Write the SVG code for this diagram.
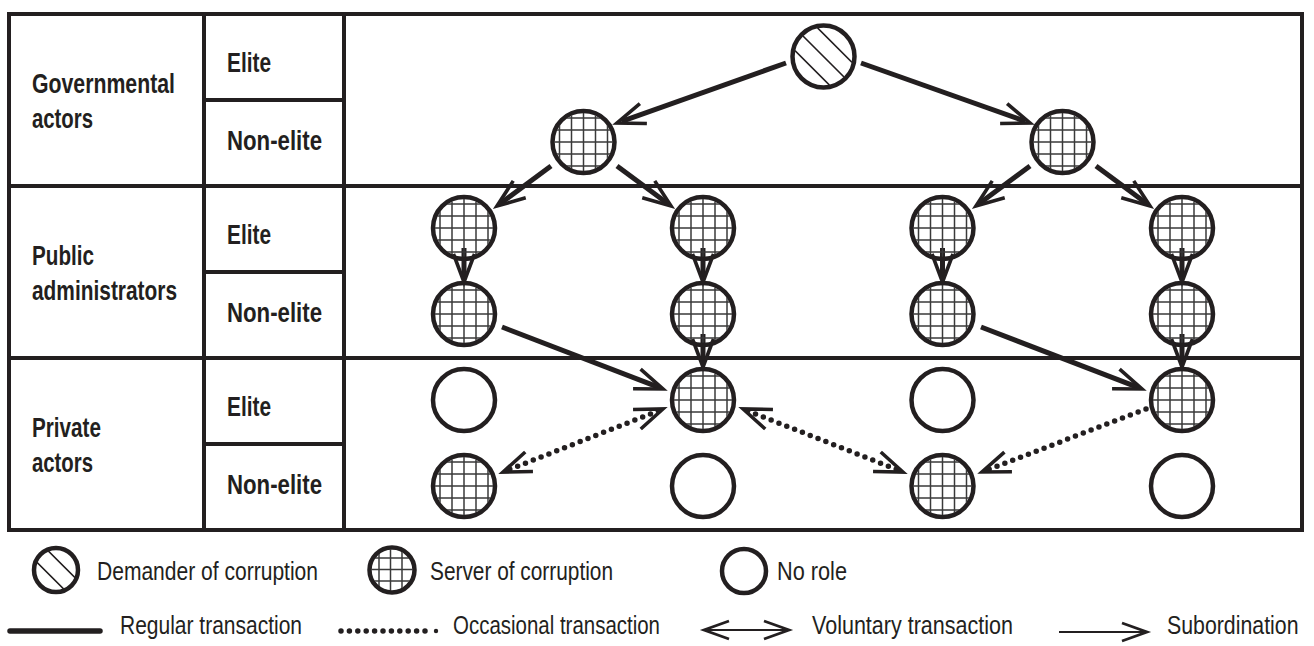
<svg xmlns="http://www.w3.org/2000/svg" xmlns:xlink="http://www.w3.org/1999/xlink" width="1314" height="646" viewBox="0 0 1314 646">
<style>
.tb{stroke:#231f20;stroke-width:4;fill:none}
.lbl{font-family:"Liberation Sans",Arial,sans-serif;font-weight:bold;font-size:27.5px;fill:#231f20}
.leg{font-family:"Liberation Sans",Arial,sans-serif;font-size:26px;fill:#231f20}
.ring{fill:none;stroke:#231f20;stroke-width:4.5}
.grid{stroke:#3a3a3a;stroke-width:1.5;fill:none}
.hatch{stroke:#231f20;stroke-width:1.6;fill:none}
.reg{stroke:#231f20;stroke-width:5;fill:none;marker-end:url(#ah)}
.dot{stroke:#231f20;stroke-width:5.5;stroke-dasharray:0 8.4;stroke-linecap:round;fill:none}
.thin{stroke:#231f20;stroke-width:1.8;fill:none}
</style>
<defs>
<marker id="ah" viewBox="-30 -15 40 30" refX="0" refY="0" markerWidth="40" markerHeight="30" orient="auto-start-reverse" markerUnits="userSpaceOnUse" overflow="visible">
<path d="M-23,-10.5 L5,0 L-23,10.5" fill="none" stroke="#231f20" stroke-width="3.6" stroke-dasharray="none"/>
</marker>
<marker id="lh" viewBox="-30 -15 40 30" refX="0" refY="0" markerWidth="40" markerHeight="30" orient="auto-start-reverse" markerUnits="userSpaceOnUse" overflow="visible">
<path d="M-25,-9 L0,0 L-25,9" fill="none" stroke="#231f20" stroke-width="2.8"/>
</marker>
<clipPath id="cc"><circle r="29"/></clipPath>
<clipPath id="cl"><circle r="20.5"/></clipPath>
<g id="srv"><g clip-path="url(#cc)"><path class="grid" d="M-24,-32V32M-12,-32V32M0,-32V32M12,-32V32M24,-32V32M-32,-24H32M-32,-12H32M-32,0H32M-32,12H32M-32,24H32"/></g><circle r="31" class="ring"/></g>
<g id="emp"><circle r="31" class="ring" fill="#fff"/></g>
<g id="dem"><g clip-path="url(#cc)"><path transform="rotate(45)" class="hatch" d="M-40,-16H40M-40,0H40M-40,16H40"/></g><circle r="31" class="ring"/></g>
</defs>
<rect width="1314" height="646" fill="#fff"/>

<g id="table">
<rect x="9" y="14" width="1293" height="516" class="tb"/>
<path class="tb" d="M204,14V530M344,14V530M9,186H1302M9,358H1302M204,100H344M204,272H344M204,444H344"/>
<text class="lbl" x="32" y="93" textLength="143" lengthAdjust="spacingAndGlyphs">Governmental</text>
<text class="lbl" x="32" y="128" textLength="61" lengthAdjust="spacingAndGlyphs">actors</text>
<text class="lbl" x="227" y="72" textLength="44" lengthAdjust="spacingAndGlyphs">Elite</text>
<text class="lbl" x="227" y="150" textLength="95" lengthAdjust="spacingAndGlyphs">Non-elite</text>
<text class="lbl" x="32" y="265" textLength="62" lengthAdjust="spacingAndGlyphs">Public</text>
<text class="lbl" x="32" y="300" textLength="145" lengthAdjust="spacingAndGlyphs">administrators</text>
<text class="lbl" x="227" y="244" textLength="44" lengthAdjust="spacingAndGlyphs">Elite</text>
<text class="lbl" x="227" y="322" textLength="95" lengthAdjust="spacingAndGlyphs">Non-elite</text>
<text class="lbl" x="32" y="437" textLength="69" lengthAdjust="spacingAndGlyphs">Private</text>
<text class="lbl" x="32" y="472" textLength="61" lengthAdjust="spacingAndGlyphs">actors</text>
<text class="lbl" x="227" y="416" textLength="44" lengthAdjust="spacingAndGlyphs">Elite</text>
<text class="lbl" x="227" y="494" textLength="95" lengthAdjust="spacingAndGlyphs">Non-elite</text>
</g>

<g id="connectors">
<path class="reg" d="M786,63L621.7,121.3"/>
<path class="reg" d="M861,63L1025.3,121.3"/>
<path class="reg" d="M551,166L501,203"/>
<path class="reg" d="M617,166L667,203"/>
<path class="reg" d="M1030,166L980,203"/>
<path class="reg" d="M1096,166L1146,203"/>
<path class="reg" d="M464,248V277"/>
<path class="reg" d="M703,248V277"/>
<path class="reg" d="M942.5,248V277"/>
<path class="reg" d="M1182,248V277"/>
<path class="reg" d="M703,334V362"/>
<path class="reg" d="M1182,334V362"/>
<path class="reg" d="M502,327L658.3,387.2"/>
<path class="reg" d="M981,327L1137.3,387.2"/>
<path class="dot" d="M658.3,410.8L507.7,470.2" marker-start="url(#ah)" marker-end="url(#ah)"/>
<path class="dot" d="M747.7,410.8L898.3,470.2" marker-start="url(#ah)" marker-end="url(#ah)"/>
<path class="dot" d="M1146,409L986.7,470.2" marker-end="url(#ah)"/>
</g>

<g id="n-gov-elite"><use href="#dem" x="823.5" y="56.5"/></g>
<g id="n-gov-nonelite-1"><use href="#srv" x="583.5" y="142"/></g>
<g id="n-gov-nonelite-2"><use href="#srv" x="1062.5" y="142"/></g>
<g id="n-pa-elite-1"><use href="#srv" x="464" y="228"/></g>
<g id="n-pa-elite-2"><use href="#srv" x="703" y="228"/></g>
<g id="n-pa-elite-3"><use href="#srv" x="942.5" y="228"/></g>
<g id="n-pa-elite-4"><use href="#srv" x="1182" y="228"/></g>
<g id="n-pa-nonelite-1"><use href="#srv" x="464" y="314"/></g>
<g id="n-pa-nonelite-2"><use href="#srv" x="703" y="314"/></g>
<g id="n-pa-nonelite-3"><use href="#srv" x="942.5" y="314"/></g>
<g id="n-pa-nonelite-4"><use href="#srv" x="1182" y="314"/></g>
<g id="n-pr-elite-1"><use href="#emp" x="464" y="400"/></g>
<g id="n-pr-elite-2"><use href="#srv" x="703" y="400"/></g>
<g id="n-pr-elite-3"><use href="#emp" x="942.5" y="400"/></g>
<g id="n-pr-elite-4"><use href="#srv" x="1182" y="400"/></g>
<g id="n-pr-nonelite-1"><use href="#srv" x="464" y="486"/></g>
<g id="n-pr-nonelite-2"><use href="#emp" x="703" y="486"/></g>
<g id="n-pr-nonelite-3"><use href="#srv" x="942.5" y="486"/></g>
<g id="n-pr-nonelite-4"><use href="#emp" x="1182" y="486"/></g>

<g id="legend">
<g id="leg-demander" transform="translate(56,570)">
<g clip-path="url(#cl)"><path transform="rotate(45)" class="hatch" d="M-30,-8H30M-30,8H30"/></g>
<circle r="22" class="ring" stroke-width="4"/>
</g>
<text class="leg" x="97" y="580" textLength="221" lengthAdjust="spacingAndGlyphs">Demander of corruption</text>
<g id="leg-server" transform="translate(392,570)">
<g clip-path="url(#cl)"><path class="grid" d="M-13,-25V25M-1.5,-25V25M10,-25V25M-25,-12H25M-25,-0.5H25M-25,11H25"/></g>
<circle r="22.5" class="ring" stroke-width="5"/>
</g>
<text class="leg" x="430" y="580" textLength="183" lengthAdjust="spacingAndGlyphs">Server of corruption</text>
<g id="leg-norole"><circle cx="744" cy="571" r="22" class="ring" stroke-width="4"/></g>
<text class="leg" x="777" y="580" textLength="70" lengthAdjust="spacingAndGlyphs">No role</text>
<path d="M10,631H100" stroke="#231f20" stroke-width="5.5" stroke-linecap="round"/>
<text class="leg" x="120" y="634" textLength="182" lengthAdjust="spacingAndGlyphs">Regular transaction</text>
<path class="dot" d="M341,631H432" stroke-width="4.2" stroke-dasharray="0 8.2"/>
<circle cx="436" cy="631" r="2.2" fill="#231f20"/>
<text class="leg" x="453" y="634" textLength="207" lengthAdjust="spacingAndGlyphs">Occasional transaction</text>
<path class="thin" d="M704,630H789" marker-start="url(#lh)" marker-end="url(#lh)"/>
<text class="leg" x="812" y="634" textLength="201" lengthAdjust="spacingAndGlyphs">Voluntary transaction</text>
<path class="thin" d="M1059,632H1147" marker-end="url(#lh)"/>
<text class="leg" transform="translate(1167,634) scale(0.82,1)">Subordination</text>
</g>
</svg>
